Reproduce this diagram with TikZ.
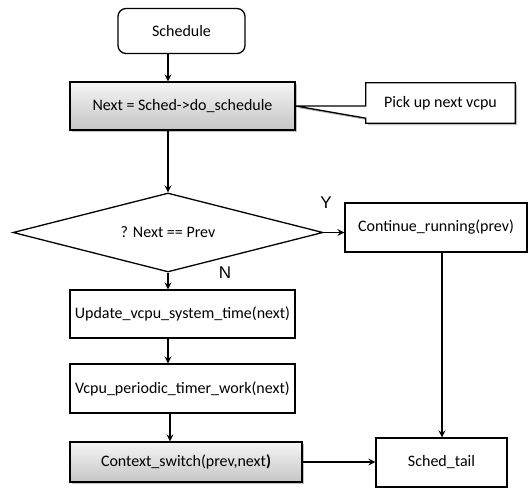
\documentclass[tikz,border=0pt]{standalone}
\usepackage{fontspec}
\setmainfont{Carlito}
\newfontfamily\labfont{Liberation Sans}
\usetikzlibrary{arrows.meta,shadows,shapes.geometric}
\begin{document}
\begin{tikzpicture}[x=1pt,y=-1pt,
  txt/.style={font=\fontsize{16}{18}\selectfont},
  box/.style={draw=black,line width=1.3pt,fill=white,minimum width=225pt,minimum height=48pt,inner sep=0pt,txt},
  graybox/.style={box,top color=gray!8,bottom color=gray!45,drop shadow={shadow xshift=2pt,shadow yshift=-2pt,opacity=0.5}},
  arr/.style={line width=1.3pt,-{Stealth[length=7pt,width=7pt,inset=2.5pt]}},
  lab/.style={font=\labfont\fontsize{17}{19}\selectfont}]
\useasboundingbox[fill=white] (0,0) rectangle (529,489);
\node[box,rounded corners=8pt,minimum width=127pt,minimum height=45pt] (sch) at (181.5,31) {Schedule};
\node[graybox] (next) at (182.5,106) {Next = Sched->do\_schedule};
\node[inner sep=0pt,minimum width=149pt,minimum height=40pt] (call) at (440.5,103) {};
\draw[line width=1.3pt,fill=white,drop shadow={shadow xshift=2pt,shadow yshift=-2pt,opacity=0.5}]
  (call.north west) -- (call.north east) -- (call.south east) -- (call.south west)
  -- ([yshift=5pt]call.south west) -- (next.east) -- ([yshift=-3pt]call.west) -- cycle;
\node[txt] at (call) {Pick up next vcpu};
\node[diamond,aspect=3.9,draw=black,line width=1.3pt,inner sep=0pt,minimum width=310pt,minimum height=79pt,txt] (dec) at (168,232.5) {? Next == Prev};
\node[box,minimum width=182pt,minimum height=49pt] (cont) at (436,227.5) {Continue\_running(prev)};
\node[box] (upd) at (182.5,314) {Update\_vcpu\_system\_time(next)};
\node[box,minimum height=49pt] (vcpu) at (182.5,388.5) {Vcpu\_periodic\_timer\_work(next)};
\node[graybox,minimum width=232pt,minimum height=40pt] (ctx) at (186,462) {Context\_switch(prev,next\textbf{)}};
\node[box,minimum width=131pt,minimum height=49pt] (tail) at (441.5,462.5) {Sched\_tail};
\node[lab] (y) at (326,203) {Y};
\node[lab] (n) at (225,273) {N};
\draw[arr] (sch.south -| dec.north) -- (next.north -| dec.north);
\draw[arr] (next.south -| dec.north) -- (dec.north);
\draw[arr] (dec.east) -- (dec.east -| cont.west);
\draw[arr] (dec.south) -- (upd.north -| dec.south);
\draw[arr] (upd.south -| dec.south) -- (vcpu.north -| dec.south);
\draw[arr] ([xshift=2pt]vcpu.south -| dec.south) -- ([xshift=2pt]ctx.north -| dec.south);
\draw[arr] ([xshift=6pt]cont.south) -- ([xshift=6pt]cont.south |- tail.north);
\draw[arr] (ctx.east) -- (ctx.east -| tail.west);
\end{tikzpicture}
\end{document}
